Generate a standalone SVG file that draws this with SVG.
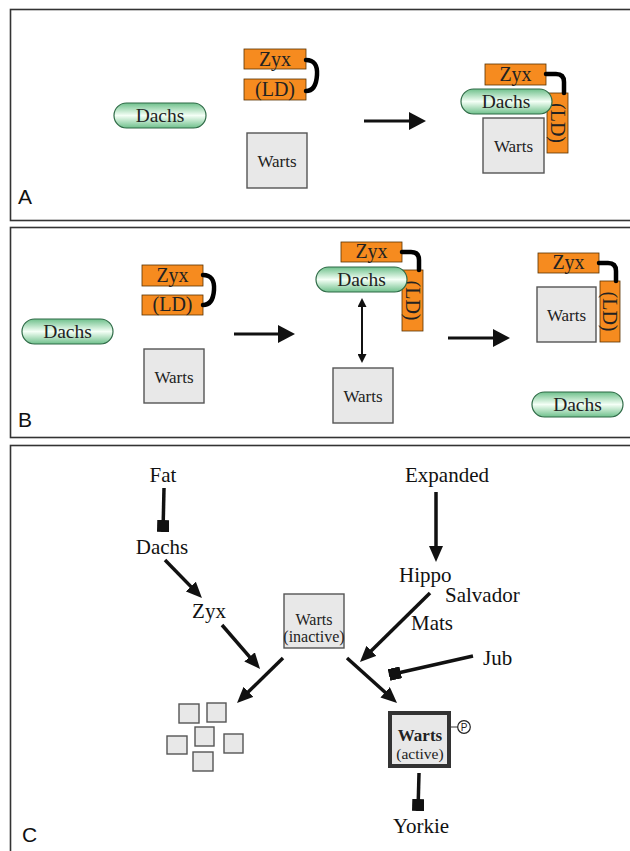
<svg xmlns="http://www.w3.org/2000/svg" width="630" height="851" viewBox="0 0 630 851">
<defs>
<linearGradient id="pill" x1="0" y1="0" x2="0" y2="1">
<stop offset="0" stop-color="#6fc08c"/>
<stop offset="0.3" stop-color="#bfe6cb"/>
<stop offset="0.5" stop-color="#f4fff6"/>
<stop offset="0.7" stop-color="#bfe6cb"/>
<stop offset="1" stop-color="#6fc08c"/>
</linearGradient>
<marker id="ah" viewBox="0 0 16 14" refX="4" refY="7" markerWidth="16" markerHeight="14" markerUnits="userSpaceOnUse" orient="auto"><path d="M0,0 L16,7 L0,14 z" fill="#111"/></marker>
<marker id="ahp" viewBox="0 0 17 18" refX="4" refY="9" markerWidth="17" markerHeight="18" markerUnits="userSpaceOnUse" orient="auto"><path d="M0,0 L17,9 L0,18 z" fill="#111"/></marker>
<marker id="ahs" viewBox="0 0 9 9" refX="3" refY="4.5" markerWidth="9" markerHeight="9" markerUnits="userSpaceOnUse" orient="auto-start-reverse"><path d="M0,0 L9,4.5 L0,9 z" fill="#111"/></marker>
<marker id="tee" viewBox="0 0 12 12" refX="12" refY="6" markerWidth="12" markerHeight="12" markerUnits="userSpaceOnUse" orient="auto"><rect x="0" y="0" width="12" height="12" fill="#111"/></marker>
</defs>
<style>
.panel{fill:#fff;stroke:#333;stroke-width:1.6}
.plab{font-family:"Liberation Sans",Arial,sans-serif;font-size:21px;fill:#111}
.orange{fill:#f68b1f;stroke:#5a3300;stroke-width:0.8}
.pill{fill:url(#pill);stroke:#2f6b47;stroke-width:1.2}
.gray{fill:#e8e8e8;stroke:#555;stroke-width:1.4}
.t{font-family:"Liberation Serif","Times New Roman",serif;fill:#222;text-anchor:middle}
.b18{font-size:20px}
.b19{font-size:19.5px}
.b15{font-size:17px}
.lbl{font-family:"Liberation Serif","Times New Roman",serif;font-size:21px;fill:#111}
.link{fill:none;stroke:#000;stroke-width:4.5;stroke-linecap:round}
.arr{fill:none;stroke:#111;stroke-width:3.5}
.parr{fill:none;stroke:#111;stroke-width:3}
</style>

<g id="panels">
<rect class="panel" x="10.5" y="9.5" width="640" height="211"/>
<rect class="panel" x="10.5" y="227.5" width="640" height="210"/>
<rect class="panel" x="10.5" y="445.5" width="640" height="420"/>
<text class="plab" x="18" y="204">A</text>
<text class="plab" x="18" y="427">B</text>
<text class="plab" x="22" y="842">C</text>
</g>

<!-- Panel A left -->
<g id="a-zyx"><rect class="orange" x="244" y="49" width="62" height="20"/><text class="t b18" x="275" y="66">Zyx</text></g>
<g id="a-ld"><rect class="orange" x="244" y="79" width="62" height="21"/><text class="t b18" x="275" y="96">(LD)</text></g>
<g id="a-dachs"><rect class="pill" x="114" y="103" width="92" height="25" rx="12.5"/><text class="t b19" x="160" y="122">Dachs</text></g>
<g id="a-warts"><rect class="gray" x="247" y="133" width="60" height="55"/><text class="t b15" x="277" y="167">Warts</text></g>

<!-- Panel A right -->
<g id="a2-zyx"><rect class="orange" x="485" y="64" width="61" height="21"/><text class="t b18" x="515.5" y="81">Zyx</text></g>
<g id="a2-ld"><rect class="orange" x="547" y="93" width="21" height="60"/><text class="t b18" x="557.5" y="123" dominant-baseline="central" transform="rotate(90 557.5 123)">(LD)</text></g>
<g id="a2-dachs"><rect class="pill" x="461" y="89" width="91" height="25" rx="12.5"/><text class="t b19" x="506" y="108">Dachs</text></g>
<g id="a2-warts"><rect class="gray" x="483" y="118" width="61" height="55"/><text class="t b15" x="513.5" y="152">Warts</text></g>

<!-- Panel B left -->
<g id="b-zyx"><rect class="orange" x="142" y="265" width="61" height="21"/><text class="t b18" x="172.5" y="282">Zyx</text></g>
<g id="b-ld"><rect class="orange" x="142" y="295" width="61" height="20"/><text class="t b18" x="172.5" y="311">(LD)</text></g>
<g id="b-dachs"><rect class="pill" x="22" y="319" width="91" height="25" rx="12.5"/><text class="t b19" x="67.5" y="338">Dachs</text></g>
<g id="b-warts"><rect class="gray" x="144" y="349" width="60" height="54"/><text class="t b15" x="174" y="383">Warts</text></g>

<!-- Panel B middle -->
<g id="b2-zyx"><rect class="orange" x="341" y="242" width="61" height="20"/><text class="t b18" x="371.5" y="258">Zyx</text></g>
<g id="b2-ld"><rect class="orange" x="402" y="270" width="21" height="61"/><text class="t b18" x="412.5" y="300.5" dominant-baseline="central" transform="rotate(90 412.5 300.5)">(LD)</text></g>
<g id="b2-dachs"><rect class="pill" x="316" y="267" width="91" height="25" rx="12.5"/><text class="t b19" x="361.5" y="286">Dachs</text></g>
<g id="b2-warts"><rect class="gray" x="333" y="368" width="60" height="55"/><text class="t b15" x="363" y="402">Warts</text></g>

<!-- Panel B right -->
<g id="b3-zyx"><rect class="orange" x="538" y="253" width="61" height="20"/><text class="t b18" x="568.5" y="269">Zyx</text></g>
<g id="b3-warts"><rect class="gray" x="537" y="287" width="59" height="55"/><text class="t b15" x="566.5" y="321">Warts</text></g>
<g id="b3-ld"><rect class="orange" x="600" y="281" width="20" height="61"/><text class="t b18" x="610" y="311.5" dominant-baseline="central" transform="rotate(90 610 311.5)">(LD)</text></g>
<g id="b3-dachs"><rect class="pill" x="532" y="392" width="91" height="25" rx="12.5"/><text class="t b19" x="577.5" y="411">Dachs</text></g>

<!-- Panel C nodes -->
<g id="c-fat"><text class="lbl" x="163" y="482" text-anchor="middle">Fat</text></g>
<g id="c-dachs"><text class="lbl" x="162" y="554" text-anchor="middle">Dachs</text></g>
<g id="c-zyx"><text class="lbl" x="209" y="618" text-anchor="middle">Zyx</text></g>
<g id="c-expanded"><text class="lbl" x="447" y="482" text-anchor="middle">Expanded</text></g>
<g id="c-hippo"><text class="lbl" x="399" y="582">Hippo</text></g>
<g id="c-salvador"><text class="lbl" x="445" y="602">Salvador</text></g>
<g id="c-mats"><text class="lbl" x="411" y="630">Mats</text></g>
<g id="c-jub"><text class="lbl" x="483" y="665">Jub</text></g>
<g id="c-warts-inactive"><rect class="gray" x="284" y="594" width="60" height="54"/><text class="t" x="314" y="625" font-size="16">Warts</text><text class="t" x="314" y="642" font-size="16">(inactive)</text></g>
<g id="c-warts-active"><rect x="390" y="713" width="59" height="53" fill="#e8e8e8" stroke="#333" stroke-width="4"/><text class="t" x="420" y="741" font-size="17" font-weight="bold">Warts</text><text class="t" x="420" y="759" font-size="15.5">(active)</text>
<line x1="451" y1="727" x2="458" y2="727" stroke="#333" stroke-width="1"/><circle cx="464" cy="727" r="6.3" fill="#fff" stroke="#222" stroke-width="1.2"/><text x="464" y="731" font-family="'Liberation Sans',Arial,sans-serif" font-size="10" text-anchor="middle" fill="#222">P</text></g>
<g id="c-fragments">
<rect class="gray" x="179" y="704" width="20" height="19"/>
<rect class="gray" x="207" y="703" width="19" height="19"/>
<rect class="gray" x="195" y="727" width="19" height="19"/>
<rect class="gray" x="167" y="736" width="20" height="18"/>
<rect class="gray" x="224" y="734" width="19" height="19"/>
<rect class="gray" x="193" y="752" width="20" height="19"/>
</g>
<g id="c-yorkie"><text class="lbl" x="421" y="833" text-anchor="middle">Yorkie</text></g>

<!-- Connectors -->
<g id="connectors">
<path class="link" d="M306 60 Q318 60 317 75 Q316 91 306 91"/>
<path class="link" d="M546 74 L556 74 Q564 74 564 82 L564 93"/>
<path class="link" d="M203 275 Q215 275 214 290 Q213 305 203 305"/>
<path class="link" d="M402 252 L411 252 Q419 252 419 260 L419 270"/>
<path class="link" d="M599 263 L608 263 Q616 263 616 271 L616 281"/>
<line class="parr" x1="364" y1="121" x2="413" y2="121" marker-end="url(#ahp)"/>
<line class="parr" x1="234" y1="334" x2="282" y2="334" marker-end="url(#ahp)"/>
<line class="parr" x1="448" y1="338" x2="497" y2="338" marker-end="url(#ahp)"/>
<line x1="362" y1="304" x2="362" y2="357" stroke="#111" stroke-width="2" marker-start="url(#ahs)" marker-end="url(#ahs)"/>
<line class="arr" x1="164" y1="488" x2="163" y2="532" marker-end="url(#tee)"/>
<line class="arr" x1="165" y1="560" x2="193.6" y2="589.4" marker-end="url(#ah)"/>
<line class="arr" x1="222" y1="625" x2="252.2" y2="659.9" marker-end="url(#ah)"/>
<line class="arr" x1="436" y1="492" x2="436" y2="550" marker-end="url(#ah)"/>
<line class="arr" x1="430" y1="593" x2="368.5" y2="653.6" marker-end="url(#ah)"/>
<line class="arr" x1="283" y1="658" x2="245.6" y2="694.6" marker-end="url(#ah)"/>
<line class="arr" x1="347" y1="658" x2="388.1" y2="695" marker-end="url(#ah)"/>
<line class="arr" x1="473" y1="656" x2="389" y2="675" marker-end="url(#tee)"/>
<line class="arr" x1="419" y1="773" x2="418" y2="811" marker-end="url(#tee)"/>
</g>
</svg>
